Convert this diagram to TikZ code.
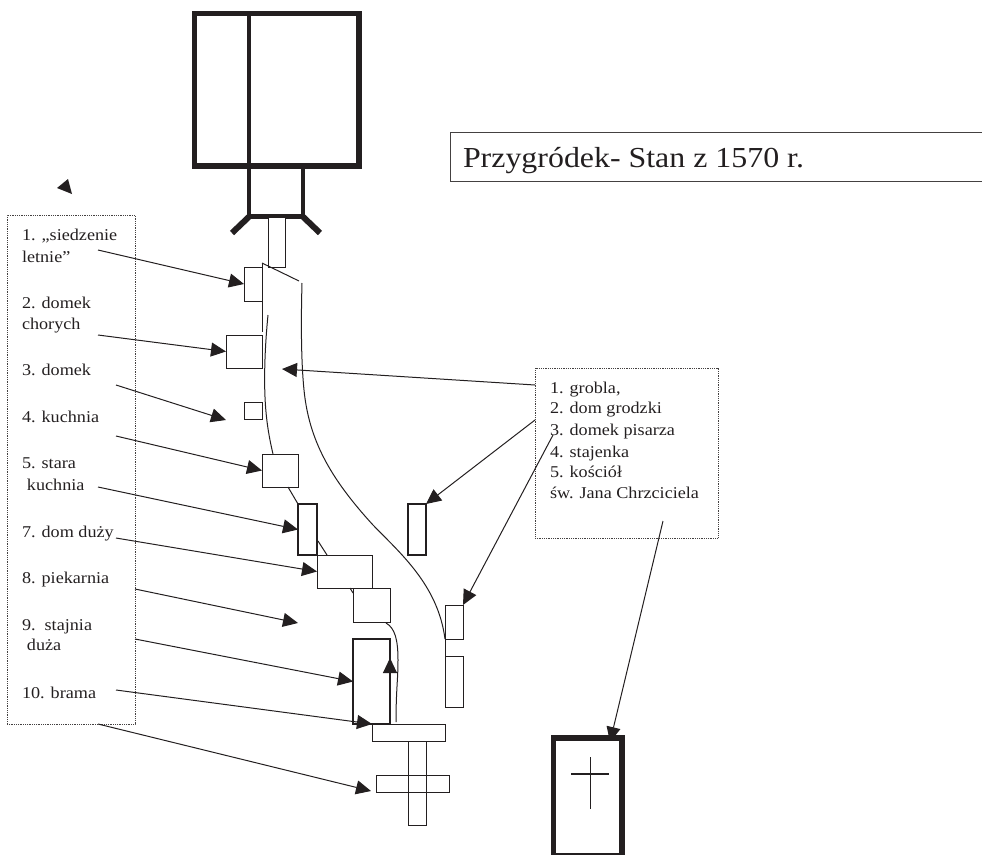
\documentclass[tikz,border=0pt]{standalone}
\usepackage{fontspec}
\setmainfont{Liberation Serif}
\newfontfamily\widefont[FakeStretch=1.1]{Liberation Serif}
\usetikzlibrary{arrows.meta}
\definecolor{ink}{HTML}{231F20}
\tikzset{
  x=1pt,y=-1pt,
  bx/.style={draw=ink,line width=1pt,inner sep=0,outer sep=0,fill=white},
  heavy/.style={draw=ink,line width=5.4pt,line join=miter,inner sep=0,outer sep=0},
  medium/.style={draw=ink,line width=4.7pt,line join=miter,inner sep=0,outer sep=0},
  flare/.style={draw=ink,line width=6pt},
  wall/.style={draw=ink,line width=1pt},
  dotbox/.style={draw=ink!85,line width=0.8pt,densely dotted,inner sep=0,outer sep=0},
  lab/.style={anchor=base west,inner sep=0,outer sep=0,text=ink,font=\widefont\fontsize{16.5}{18}\selectfont},
  arr/.style={draw=ink,line width=1pt,-{Triangle[length=15pt,width=14pt]}},
}
\begin{document}
\begin{tikzpicture}
\useasboundingbox (0,0) rectangle (982,854);
% fortress
\node[medium,minimum width=54pt,minimum height=50.7pt] (neck) at (276,191.4) {};
\node[heavy,minimum width=164.5pt,minimum height=152.7pt] (keep) at (276.7,89.7) {};
\draw[medium] (249,13.3) -- (249,166);
\coordinate (fl) at (232,233);
\coordinate (fr) at (320,233);
\draw[flare] (neck.south west) -- (fl);
\draw[flare] (neck.south east) -- (fr);
% buildings
\node[bx,minimum width=17pt,minimum height=50pt] (bridge) at (276.5,242) {};
\node[bx,minimum width=18pt,minimum height=34pt] (r1) at (253,284) {};
\node[bx,minimum width=36pt,minimum height=33pt] (r2) at (244,351.5) {};
\node[bx,minimum width=18pt,minimum height=17pt] (r3) at (253,410.5) {};
\node[bx,minimum width=36pt,minimum height=33pt] (r4) at (280,470.5) {};
\node[bx,line width=1.3pt,minimum width=19pt,minimum height=51pt] (r5) at (307.5,529.5) {};
\node[bx,minimum width=55pt,minimum height=33pt] (r7) at (344.5,571.5) {};
\node[bx,minimum width=37pt,minimum height=34pt] (r8) at (371.5,605) {};
\node[bx,line width=1.3pt,minimum width=37pt,minimum height=85pt] (r9) at (371.5,681.5) {};
\node[bx,minimum width=73pt,minimum height=17pt] (r10) at (408.5,732.5) {};
\node[bx,fill=none,minimum width=18pt,minimum height=84pt] (stem) at (417,783) {};
\node[bx,fill=none,minimum width=73pt,minimum height=17pt] (bar) at (412.5,783.5) {};
\node[bx,line width=1.3pt,minimum width=18pt,minimum height=51pt] (h2) at (417,529.5) {};
\node[bx,minimum width=18pt,minimum height=34pt] (h4) at (454,622) {};
\node[bx,minimum width=18pt,minimum height=51pt] (h5) at (454,681.5) {};
% curves
\draw[wall] (262,263) -- (262,332);
\draw[wall] (262,263) -- (299,281);
\draw[wall] (268,315) .. controls (265,345) and (264,375) .. (265,397) .. controls (266,420) and (269,437) .. (273,454);
\draw[wall] (302,283) .. controls (301,320) and (301,360) .. (304,390) .. controls (309,440) and (330,478) .. (373,525) .. controls (400,553) and (438,585) .. (445,639);
\draw[wall] (445,639) -- (445,656);
\draw[wall] (288,487) -- (298,504);
\draw[wall] (318,541) -- (327,555);
\draw[wall] (350,588) -- (353,593);
\draw[wall] (386,623) .. controls (395,628) and (398,640) .. (398,660) .. controls (398,680) and (396,690) .. (396,722);
% title
\node[draw=ink!85,line width=0.8pt,inner sep=0,outer sep=0,minimum width=532pt,minimum height=49pt] (titlebox) at (716,156.5) {};
\node[lab,font=\widefont\fontsize{29}{32}\selectfont] (title) at (463,167) {Przygródek- Stan z 1570 r.};
% legend boxes
\node[dotbox,minimum width=128pt,minimum height=509pt] (legL) at (71,469.5) {};
\node[dotbox,minimum width=183pt,minimum height=170pt] (legR) at (626.5,453) {};
% left labels
\node[lab] (t1) at (22,240) {1. „siedzenie};
\node[lab] (t1b) at (22,262) {letnie”};
\node[lab] (t2) at (22,308) {2. domek};
\node[lab] (t2b) at (22,329) {chorych};
\node[lab] (t3) at (22,375) {3. domek};
\node[lab] (t4) at (22,422) {4. kuchnia};
\node[lab] (t5) at (22,468) {5. stara};
\node[lab] (t5b) at (27,490) {kuchnia};
\node[lab] (t7) at (22,537) {7. dom duży};
\node[lab] (t8) at (22,583) {8. piekarnia};
\node[lab] (t9) at (22,630) {9.\ \ stajnia};
\node[lab] (t9b) at (27,650) {duża};
\node[lab] (t10) at (22,698) {10. brama};
% right labels
\node[lab] (u1) at (550,393) {1. grobla,};
\node[lab] (u2) at (550,413) {2. dom grodzki};
\node[lab] (u3) at (550,435) {3. domek pisarza};
\node[lab] (u4) at (550,457) {4. stajenka};
\node[lab] (u5) at (550,477) {5. kościół};
\node[lab] (u6) at (550,498) {św. Jana Chrzciciela};
% connector ends
\coordinate (a1) at (98,250);
\coordinate (a2) at (98,335);
\coordinate (a3) at (116,385);
\coordinate (a4) at (116,436);
\coordinate (a5) at (98,487);
\coordinate (a7) at (116,538);
\coordinate (a8) at (135,589);
\coordinate (a9) at (135,639);
\coordinate (a10) at (116,690);
\coordinate (a11) at (98,724);
\coordinate (tip3) at (226,420);
\coordinate (tip8) at (298,623);
\coordinate (tip10) at (372,724);
\coordinate (tip11) at (371,791);
\coordinate (tipG) at (282,369);
\coordinate (b1) at (535,385);
\coordinate (b2) at (535,420);
\coordinate (b3) at (553,435);
\coordinate (b5) at (663,521);
\coordinate (tipC) at (610,742);
\coordinate (up0) at (390,723);
\coordinate (up1) at (390,658);
\draw[arr] (a1) -- (r1.west);
\draw[arr] (a2) -- (r2.west);
\draw[arr] (a3) -- (tip3);
\draw[arr] (a4) -- (r4.west);
\draw[arr] (a5) -- (r5.west);
\draw[arr] (a7) -- (r7.west);
\draw[arr] (a8) -- (tip8);
\draw[arr] (a9) -- (r9.west);
\draw[arr] (a10) -- (tip10);
\draw[arr] (a11) -- (tip11);
\draw[arr] (b1) -- (tipG);
\draw[arr] (b2) -- (h2.north east);
\draw[arr] (b3) -- (h4.north east);
\draw[arr] (b5) -- (tipC);
\draw[arr] (up0) -- (up1);
% church
\node[heavy,fill=white,minimum width=68.5pt,minimum height=118pt] (church) at (587.75,797) {};
\draw[draw=ink,line width=1pt] (590,757) -- (590,809);
\draw[draw=ink,line width=1.8pt] (571,774) -- (609,774);
% stray arrowhead
\fill[ink] (57,188) -- (68,179) -- (72,194) -- cycle;
\end{tikzpicture}
\end{document}
